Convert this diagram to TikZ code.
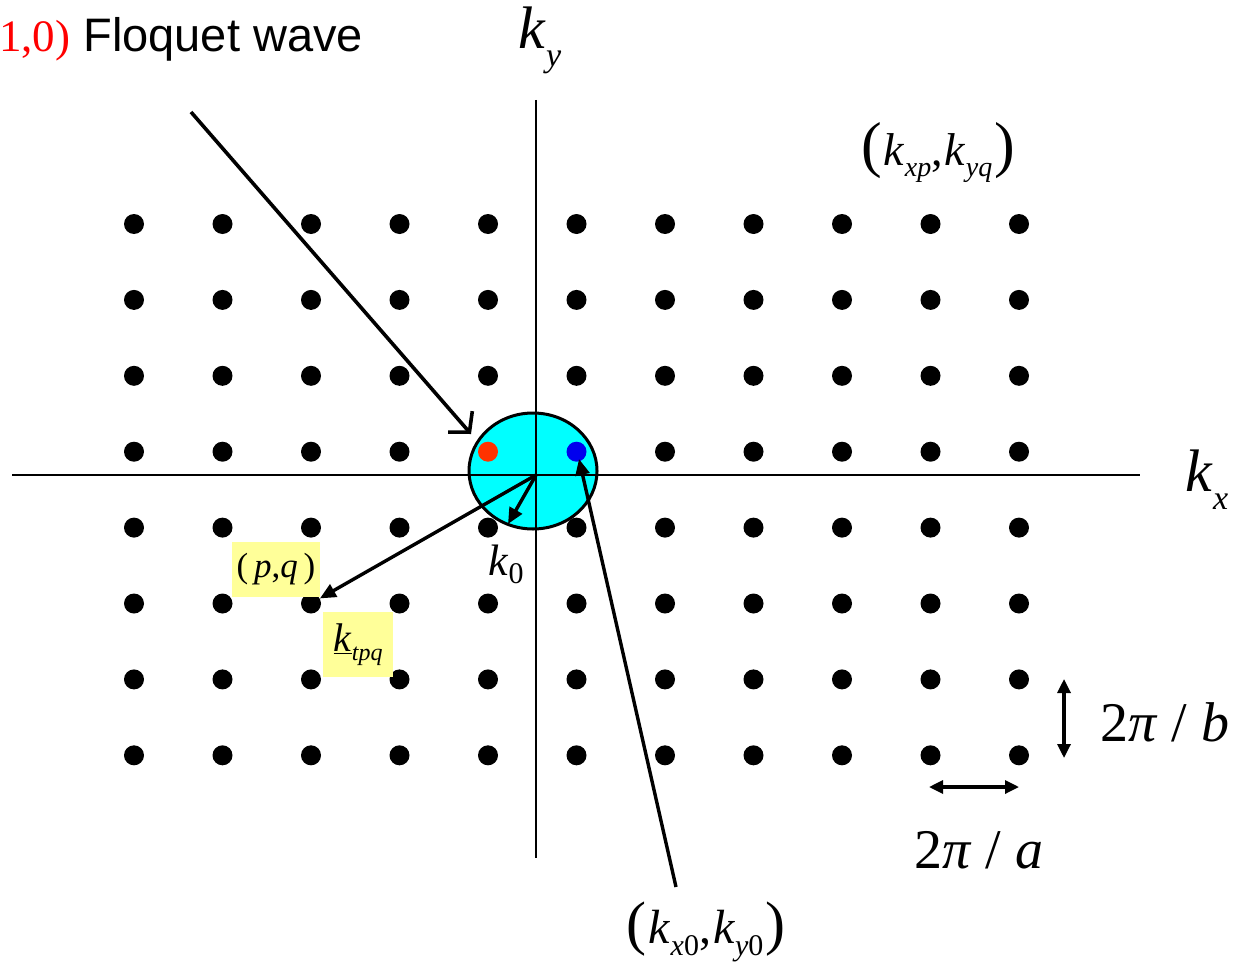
\documentclass[tikz,border=0pt]{standalone}
\usepackage{fontspec}
\setmainfont{Liberation Serif}
\newfontfamily\arialf{Liberation Sans}
\usetikzlibrary{shapes.geometric,arrows.meta}
\newcommand\fs[1]{\fontsize{#1}{#1}\selectfont}
\newcommand\kwith[4]{{\fs{#1}\textit{k}}\raisebox{#3}{\fs{#2}#4}}
% pair: #1 paren size, #2 k size, #3 sub size, #4 drop, #5 sub1, #6 sub2
\newcommand\kpair[6]{{\fs{#1}(\kern2pt}\kwith{#2}{#3}{#4}{#5}{\fs{#2},\kern2pt}\kwith{#2}{#3}{#4}{#6}{\fs{#1}\kern2pt)}}
\definecolor{lyellow}{HTML}{FFFF99}
\definecolor{dotred}{HTML}{FF3300}
\definecolor{dotblue}{HTML}{0000EE}
\definecolor{cyanfill}{HTML}{00FFFF}
\tikzset{
  dot/.style={circle,fill=black,inner sep=0pt,minimum size=20pt},
  axis/.style={line width=2.5pt},
  arr/.style={line width=3.4pt,-{Triangle[length=16pt,width=14pt]}},
  dblarr/.style={line width=3.2pt,{Triangle[length=14pt,width=13pt]}-{Triangle[length=14pt,width=13pt]}},
  barb/.style={line width=3.6pt,-{Straight Barb[length=14pt,width=32pt,line width=3.6pt]}},
  ybox/.style={fill=lyellow,inner sep=0pt},
  lbl/.style={inner sep=0pt}
}
\begin{document}
\begin{tikzpicture}[x=1pt,y=-1pt]
\useasboundingbox (0,0) rectangle (1236,963);
% lattice of dots
\foreach \i in {0,...,10}{
  \foreach \j in {0,...,7}{
    \node[dot] (d-\i-\j) at ({134+88.5*\i},{224+75.9*\j}) {};
  }
}
% central circle
\node[ellipse,draw,fill=cyanfill,line width=3pt,minimum width=128pt,minimum height=116pt,inner sep=0pt] (circ) at (533,471) {};
% axes
\coordinate (O) at (536,475);
\coordinate (xl) at (12,475);
\coordinate (xr) at (1140,475);
\coordinate (yt) at (536,100);
\coordinate (yb) at (536,858);
\draw[axis] (xl) -- (xr);
\draw[axis] (yt) -- (yb);
% red and blue dots
\node[dot,fill=dotred] (red) at (d-4-3) {};
\node[dot,fill=dotblue] (blue) at (d-5-3) {};
% axis labels
\node[lbl] (kx) at (1207,480) {\kwith{60pt}{34pt}{-18pt}{\textit{x}}};
\node[lbl] (ky) at (540,40) {\kwith{60pt}{34pt}{-18pt}{\textit{y}}};
% Floquet label
\node[lbl,anchor=base west] (fw) at (-1,52) {{\fs{45pt}\color{red}1,0)}{\arialf\fs{47pt}\kern13pt Floquet wave}};
\coordinate (fws) at (191,112);
\coordinate (fwe) at (471,434);
\draw[barb] (fws) -- (fwe);
% k0 arrow
\coordinate (k0e) at (508,524);
\draw[arr] (O) -- (k0e);
\node[lbl] (k0) at (506,564) {\kwith{44pt}{30pt}{-8pt}{0}};
% (p,q) arrow
\draw[arr] (O) -- (d-2-5);
\node[ybox,minimum width=88pt,minimum height=55pt] (pq) at (276,569.5) {\fs{35pt}(\,\textit{p},\textit{q}\,)};
\node[ybox,minimum width=70pt,minimum height=65pt] (kt) at (358,644.5) {{\fs{40pt}\underline{\textit{k}}}\raisebox{-9pt}{\fs{24pt}\textit{tpq}}};
% (kx0,ky0) arrow
\coordinate (k0s) at (676,887);
\coordinate (k0t) at (579,459);
\draw[arr] (k0s) -- (k0t);
\node[lbl] (kx0) at (706,932) {\kpair{60pt}{48pt}{30pt}{-12pt}{\textit{x}0}{\textit{y}0}};
% (kxp,kyq)
\node[lbl] (kxp) at (938,153) {\kpair{62pt}{46pt}{28pt}{-11pt}{\textit{xp}}{\textit{yq}}};
% spacing arrows
\coordinate (bt) at (1064,679);
\coordinate (bb) at (1064,758);
\draw[dblarr] (bt) -- (bb);
\node[lbl] (lb) at (1165,722) {\fs{56pt}2\textit{π} / \textit{b}};
\coordinate (al) at (929,787);
\coordinate (ar) at (1019,787);
\draw[dblarr] (al) -- (ar);
\node[lbl] (la) at (979,850) {\fs{56pt}2\textit{π} / \textit{a}};
\end{tikzpicture}
\end{document}
